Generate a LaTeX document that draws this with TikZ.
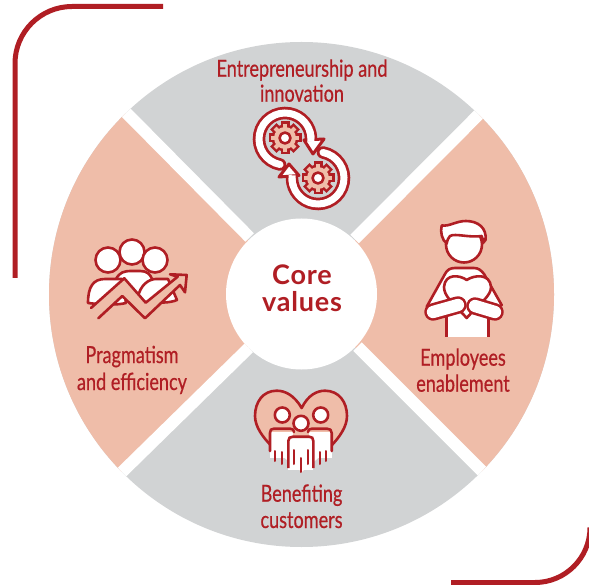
\documentclass[tikz,border=0pt]{standalone}
\usepackage{fontspec}
\setmainfont{Lato}
\newfontfamily\condfont[FakeStretch=0.77,FakeBold=0.5]{Lato}
\newfontfamily\corefont[LetterSpace=3]{Lato}
\definecolor{brand}{HTML}{B01E24}
\definecolor{blush}{HTML}{EFBDA9}
\definecolor{mist}{HTML}{D1D3D4}
\tikzset{
  framing/.style={draw=brand,line width=5pt},
  gapline/.style={draw=white,line width=12pt},
  ink/.style={draw=brand,line width=2.6pt,line join=round,line cap=round},
  whiteink/.style={ink,fill=white},
  blushink/.style={ink,fill=blush},
  caption/.style={text=brand,font=\condfont\fontsize{23.5}{25}\selectfont,anchor=base,inner sep=0pt},
  corecap/.style={text=brand,font=\corefont\bfseries\fontsize{27}{29}\selectfont,anchor=base,inner sep=0pt},
}
\newcommand{\ringarc}[4]{% centre, start, end, radius
  \draw[brand,line width=12.5pt,line cap=round] #1 ++(#2:#4) arc[start angle=#2,end angle=#3,radius=#4];
  \draw[white,line width=7pt,line cap=round] #1 ++(#2:#4) arc[start angle=#2,end angle=#3,radius=#4];
}
\newcommand{\cog}[1]{%
  \begin{scope}[shift={#1}]
    \foreach \a in {0,45,...,315} \draw[brand,line width=9pt] (0,0) -- (\a:16.5);
    \fill[brand] (0,0) circle[radius=13.5];
    \foreach \a in {0,45,...,315} \draw[blush,line width=4.2pt] (0,0) -- (\a:14);
    \fill[blush] (0,0) circle[radius=11];
    \draw[whiteink] (0,0) circle[radius=5.5];
  \end{scope}
}
\newcommand{\capsule}[2]{%
  \draw[brand,line width=17.5pt,line cap=round] #1 -- #2;
  \draw[white,line width=12.3pt,line cap=round] #1 -- #2;
}
\newcommand{\heartpath}{(301.7,408) .. controls (294,395) and (285,390.7) .. (276.7,390.7) .. controls (263,390.7) and (255,402) .. (255,416) .. controls (255,437) and (285,458) .. (301.7,472) .. controls (318,458) and (347,437) .. (347,416) .. controls (347,402) and (339,390.7) .. (325,390.7) .. controls (317,390.7) and (308,395) .. (301.7,408) -- cycle}
\begin{document}
\begin{tikzpicture}[x=1pt,y=-1pt]
\useasboundingbox (0,0) rectangle (589,585);
\fill[white] (0,0) rectangle (589,585);
% frame
\draw[framing] (163,6.5) -- (72,6.5) arc[start angle=270,end angle=180,radius=57] -- (15,278);
\begin{scope}
  \clip (0,0) rectangle (589,585);
  \draw[framing] (451,582.5) -- (535,582.5) arc[start angle=90,end angle=0,radius=55];
\end{scope}
% wheel
\begin{scope}
  \clip (301.5,294.5) circle[radius=252.5];
  \fill[mist] (0,0) rectangle (589,585);
  \fill[blush] (301.5,294.5) -- (76,62) -- (0,62) -- (0,521) -- (72,521) -- cycle;
  \fill[blush] (301.5,294.5) -- (530,63) -- (589,63) -- (589,520) -- (531,520) -- cycle;
  \draw[gapline] (249.7,237.5) -- (76,62);
  \draw[gapline] (354.7,239) -- (530,63);
  \draw[gapline] (357.5,346.7) -- (531,520);
  \draw[gapline] (248.7,348) -- (72,521);
\end{scope}
\fill[white] (301.5,294) circle[radius=75.5];
% texts
\node[corecap] (core1) at (302,285) {Core};
\node[corecap] (core2) at (302,311.7) {values};
\node[caption] (t1a) at (302,76.7) {Entrepreneurship and};
\node[caption] (t1b) at (302,101.7) {innovation};
\node[caption] (t2a) at (132,363) {Pragmatism};
\node[caption] (t2b) at (132,390) {and efficiency};
\node[caption] (t3a) at (463,365.7) {Employees};
\node[caption] (t3b) at (463,391.7) {enablement};
\node[caption] (t4a) at (301.5,501.7) {Benefiting};
\node[caption] (t4b) at (301.5,528) {customers};
% gears icon
\ringarc{(285,139)}{101}{358}{26}
\ringarc{(318,178)}{-79}{178}{26}
\draw[whiteink,line width=3pt] (304,140) -- (324,139) -- (313,154) -- cycle;
\draw[whiteink,line width=3pt] (289,164) -- (279,177) -- (299,175.5) -- cycle;
\draw[white,line width=7pt] (285,139) ++(340:26) arc[start angle=340,end angle=366,radius=26];
\draw[white,line width=7pt] (318,178) ++(160:26) arc[start angle=160,end angle=186,radius=26];
\cog{(285,138)}
\cog{(318,178)}
% pragmatism icon
\draw[whiteink] (132,252) circle[radius=12.5];
\draw[whiteink] (108,260) circle[radius=12.5];
\draw[whiteink] (155,260) circle[radius=12.5];
\draw[whiteink] (116,279) .. controls (120,272) and (124,271) .. (132,271) -- (140,271) .. controls (147,271) and (150,274) .. (152,279) -- (150,300) -- (122,300) -- cycle;
\draw[whiteink] (88,303) .. controls (88,287) and (93,279) .. (105,279) -- (122,279) -- (126,303) .. controls (118,305) and (105,305) .. (88,303) -- cycle;
\draw[whiteink] (138,297) .. controls (140,286) and (148,279) .. (156,279) -- (168,279) -- (177,300) .. controls (170,303) and (160,303) .. (145,302) -- cycle;
\draw[blushink] (91,308) -- (124.3,278.3) -- (145.7,302.7) -- (177.7,276.7) -- (170,274.3) -- (186.7,275) -- (185,292.3) -- (180,285) -- (145,318.3) -- (122.3,296) -- (98.3,318.3);
% employee icon
\draw[whiteink] (446.7,312) -- (426.7,306.7) -- (445,274) .. controls (447,270) and (450,268) .. (455,268) -- (474,268) .. controls (478,268) and (481,270) .. (484,274) -- (501.7,305) -- (488.3,312);
\fill[white] (447.7,312) rectangle (487.3,337);
\draw[draw=brand,line width=2.6pt] (446.7,316) -- (446.7,337) (488.3,316) -- (488.3,337);
\draw[whiteink] (466.7,280) .. controls (460,275) and (445,273) .. (444,287) .. controls (444,296) and (452,302) .. (466.7,318) .. controls (481,302) and (491,296) .. (491,287) .. controls (490,273) and (474,275) .. (466.7,280) -- cycle;
\capsule{(433,312)}{(458,305)}
\capsule{(475,306)}{(495,312)}
\draw[whiteink] (464,244.5) circle[radius=18];
\draw[whiteink] (441.7,225.5) .. controls (450,226.5) and (456,221) .. (466,221) .. controls (478,221) and (487,228) .. (485.5,240) -- (483,243) .. controls (482,239) and (483,237) .. (481.7,236) .. controls (470,238) and (455,233) .. (450,236) .. controls (448,238) and (447,241) .. (446.7,243.5) .. controls (442,240) and (440,232) .. (441.7,225.5) -- cycle;
% customers icon
\fill[blush] \heartpath;
\begin{scope}
  \clip (240,380) rectangle (360,449);
  \draw[ink] \heartpath;
\end{scope}
\begin{scope}
  \clip (240,445) rectangle (360,480);
  \fill[white] \heartpath;
\end{scope}
\fill[white] (270,432) rectangle (293,458);
\fill[white] (309,432) rectangle (331.7,458);
\draw[whiteink] (282.3,415) circle[radius=7.5];
\draw[whiteink] (320.7,415) circle[radius=7.5];
\draw[ink] (270,451) -- (270,433) .. controls (270,430) and (271,428.7) .. (274,428.7) -- (290,428.7) .. controls (293,428.7) and (294,430) .. (294,432);
\draw[ink] (331.7,451) -- (331.7,433) .. controls (331.7,430) and (330,428.7) .. (327,428.7) -- (312,428.7) .. controls (309,428.7) and (308,430) .. (308,432);
\fill[white] (288.3,440) rectangle (313.3,470);
\draw[draw=brand,fill=white,line width=2.6pt] (288.3,468) -- (288.3,441) .. controls (288.3,438) and (290,436.7) .. (293,436.7) -- (309,436.7) .. controls (312,436.7) and (313.3,438) .. (313.3,441) -- (313.3,468);
\fill[white] (289.6,450) rectangle (312,468);
\draw[whiteink] (301,423.3) circle[radius=7.5];
\draw[ink,line width=2pt] (275,451) -- (275,461) (281.7,452) -- (281.7,464) (294,450) -- (294,464);
\draw[ink,line width=2pt] (301,458) -- (301,472) (308,450) -- (308,464);
\draw[ink,line width=2pt] (320,452) -- (320,464) (326,451) -- (326,461);
\end{tikzpicture}
\end{document}
